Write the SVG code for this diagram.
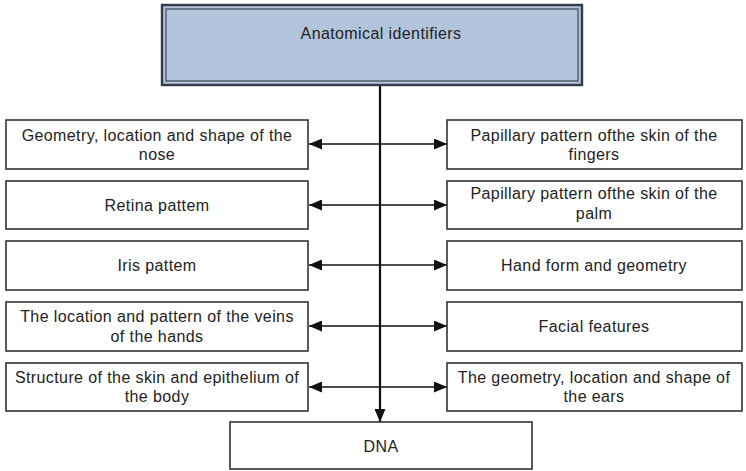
<svg xmlns="http://www.w3.org/2000/svg" width="746" height="471" viewBox="0 0 746 471">
  <style>
    .box { fill: #ffffff; stroke: #333333; stroke-width: 1.6; }
    .lbl { font-family: "Liberation Sans", Arial, sans-serif; font-size: 16px; letter-spacing: 0.4px; fill: #222222; text-anchor: middle; }
    .conn { stroke: #111111; stroke-width: 1.6; fill: none; }
    .trunk { stroke: #111111; stroke-width: 2.2; fill: none; }
  </style>
  <defs>
    <marker id="arrow" viewBox="0 0 13 11" refX="13" refY="5.5" markerWidth="13" markerHeight="11" markerUnits="userSpaceOnUse" orient="auto-start-reverse">
      <path d="M0,0 L13,5.5 L0,11 Z" fill="#111111"/>
    </marker>
  </defs>

  <rect width="746" height="471" fill="#ffffff"/>

  <!-- connectors -->
  <g id="connectors">
    <line class="trunk" x1="380" y1="85" x2="380" y2="422" marker-end="url(#arrow)"/>
    <line class="conn" x1="309" y1="144" x2="447" y2="144" marker-start="url(#arrow)" marker-end="url(#arrow)"/>
    <line class="conn" x1="309" y1="205" x2="447" y2="205" marker-start="url(#arrow)" marker-end="url(#arrow)"/>
    <line class="conn" x1="309" y1="265" x2="447" y2="265" marker-start="url(#arrow)" marker-end="url(#arrow)"/>
    <line class="conn" x1="309" y1="326" x2="447" y2="326" marker-start="url(#arrow)" marker-end="url(#arrow)"/>
    <line class="conn" x1="309" y1="387" x2="447" y2="387" marker-start="url(#arrow)" marker-end="url(#arrow)"/>
  </g>

  <!-- root node with double border -->
  <g id="anatomical-identifiers">
    <rect x="162" y="5" width="420" height="80" fill="#b3c4dd" stroke="#343b48" stroke-width="2.4"/>
    <rect x="166" y="9" width="412" height="72" fill="none" stroke="#4d5768" stroke-width="1.4"/>
    <text class="lbl" x="381" y="39">Anatomical identifiers</text>
  </g>

  <!-- left column -->
  <g id="nose">
    <rect class="box" x="6" y="120" width="302" height="49"/>
    <text class="lbl" x="157" y="141">Geometry, location and shape of the</text>
    <text class="lbl" x="157" y="160">nose</text>
  </g>
  <g id="retina">
    <rect class="box" x="6" y="181" width="302" height="48"/>
    <text class="lbl" x="157" y="211">Retina pattem</text>
  </g>
  <g id="iris">
    <rect class="box" x="6" y="241" width="302" height="49"/>
    <text class="lbl" x="157" y="271">Iris pattem</text>
  </g>
  <g id="veins">
    <rect class="box" x="6" y="302" width="302" height="49"/>
    <text class="lbl" x="157" y="322">The location and pattern of the veins</text>
    <text class="lbl" x="157" y="342">of the hands</text>
  </g>
  <g id="skin">
    <rect class="box" x="6" y="363" width="302" height="48"/>
    <text class="lbl" x="157" y="383">Structure of the skin and epithelium of</text>
    <text class="lbl" x="157" y="402">the body</text>
  </g>

  <!-- right column -->
  <g id="fingers">
    <rect class="box" x="447" y="120" width="295" height="49"/>
    <text class="lbl" x="594" y="141">Papillary pattern ofthe skin of the</text>
    <text class="lbl" x="594" y="160">fingers</text>
  </g>
  <g id="palm">
    <rect class="box" x="447" y="181" width="295" height="48"/>
    <text class="lbl" x="594" y="199">Papillary pattern ofthe skin of the</text>
    <text class="lbl" x="594" y="219">palm</text>
  </g>
  <g id="hand">
    <rect class="box" x="447" y="241" width="295" height="49"/>
    <text class="lbl" x="594" y="271">Hand form and geometry</text>
  </g>
  <g id="face">
    <rect class="box" x="447" y="302" width="295" height="49"/>
    <text class="lbl" x="594" y="332">Facial features</text>
  </g>
  <g id="ears">
    <rect class="box" x="447" y="363" width="295" height="48"/>
    <text class="lbl" x="594" y="383">The geometry, location and shape of</text>
    <text class="lbl" x="594" y="402">the ears</text>
  </g>

  <!-- bottom node -->
  <g id="dna">
    <rect class="box" x="230" y="422" width="302" height="47"/>
    <text class="lbl" x="381" y="452">DNA</text>
  </g>
</svg>
